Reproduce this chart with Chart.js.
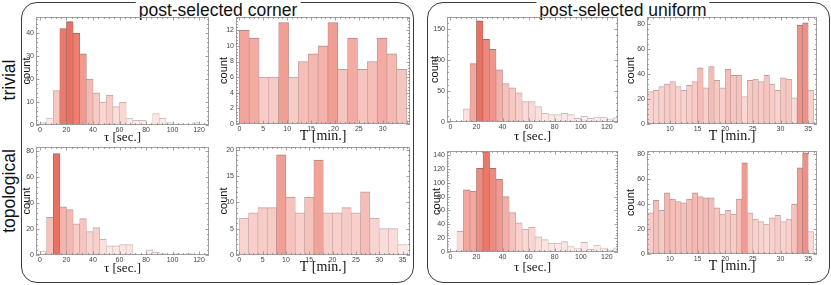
<!DOCTYPE html>
<html>
<head>
<meta charset="utf-8">
<script src="https://cdn.jsdelivr.net/npm/chart.js@4.4.1/dist/chart.umd.min.js"></script>
<style>
  body { margin: 0; background: #fff; width: 831px; height: 285px; overflow: hidden; position: relative; font-family: "Liberation Sans", Arial, sans-serif; }
  .box { position: absolute; border: 1.3px solid #3a3a3a; border-radius: 16px; box-sizing: border-box; }
  .title { position: absolute; top: 0; background: #fff; padding: 0 3px; font-size: 17.5px; line-height: 20px; color: #111; white-space: nowrap; transform: translateX(-50%); }
  .row { position: absolute; font-size: 17.5px; line-height: 20px; color: #111; white-space: nowrap; transform: translate(-50%, -50%) rotate(-90deg); }
  canvas { position: absolute; }
</style>
</head>
<body>
<div class="box" style="left:21px;top:2px;width:393px;height:281px"></div>
<div class="box" style="left:427px;top:2px;width:403px;height:281px"></div>
<div class="title" style="left:218px">post-selected corner</div>
<div class="title" style="left:623px">post-selected uniform</div>
<div class="row" style="left:9px;top:80px">trivial</div>
<div class="row" style="left:9px;top:191px">topological</div>

<script>
// tick labels
const tauTicks = [0, 20, 40, 60, 80, 100, 120];
const cornerTTicks = [0, 5, 10, 15, 20, 25, 30];
const cornerTTicks2 = [0, 5, 10, 15, 20, 25, 30, 35];
const uniformTTicks = [10, 15, 20, 25, 30, 35];

// counts per bin (tau: 5 s bins from 0, T corner: 17 or 18 bins from 0, T uniform: 1 min bins from 6)
const trivialCornerTau = [1, 3, 15, 42, 45, 40, 31, 20, 14, 10, 13, 8, 10, 3, 2, 2, 0, 5, 3, 1, 0, 0, 0, 1, 0];
const trivialCornerT = [12, 11, 6, 6, 13, 6, 8, 9, 10, 13, 7, 11, 7, 8, 11, 9, 7];
const topoCornerTau = [3, 29, 78, 37, 35, 24, 28, 18, 21, 12, 7, 7, 8, 8, 0, 0, 4, 2, 1, 0, 1, 0, 1, 0, 0];
const topoCornerT = [7, 8, 9, 9, 19, 11, 8, 11, 18, 8, 8, 9, 8, 12, 7, 5, 5, 2];
const trivialUniformTau = [1, 0, 21, 94, 163, 133, 117, 84, 62, 55, 47, 33, 33, 25, 14, 12, 12, 14, 12, 6, 9, 6, 8, 8, 5, 7];
const trivialUniformT = [26, 27, 30, 32, 34, 30, 27, 31, 34, 45, 29, 46, 35, 29, 44, 39, 39, 22, 35, 36, 34, 39, 32, 27, 37, 36, 21, 79, 81, 27];
const topoUniformTau = [0, 30, 90, 88, 121, 145, 121, 105, 80, 57, 42, 33, 36, 22, 18, 13, 13, 15, 8, 5, 14, 4, 10, 5, 2, 6];
const topoUniformT = [33, 43, 35, 49, 44, 42, 41, 44, 49, 46, 45, 45, 37, 32, 35, 32, 44, 73, 33, 28, 26, 24, 29, 31, 26, 28, 40, 69, 81, 18];

const tauLabel = "τ [sec.]";
const tLabel = "T [min.]";

const panels = [
  { counts: trivialCornerTau, start: 0, bin: 5, xMin: -3, xMax: 127.5, yMax: 47, xTicks: tauTicks, yTicks: [0, 10, 20, 30, 40], xTitle: tauLabel, tSize: 13, area: [36, 17, 209, 125], titleY: 137, W: 16, k: 1 },
  { counts: trivialCornerT, start: 0, bin: 35 / 17, xMin: -0.7, xMax: 35.7, yMax: 13.7, xTicks: cornerTTicks, yTicks: [0, 2, 4, 6, 8, 10, 12], xTitle: tLabel, tSize: 14, area: [236, 17, 410, 124], titleY: 137, W: 19, k: 0.65 },
  { counts: topoCornerTau, start: 0, bin: 5, xMin: -3, xMax: 127.5, yMax: 83, xTicks: tauTicks, yTicks: [0, 20, 40, 60, 80], xTitle: tauLabel, tSize: 13, area: [36, 147, 209, 255], titleY: 268, W: 16, k: 1 },
  { counts: topoCornerT, start: 0, bin: 2, xMin: -0.7, xMax: 36.6, yMax: 20.5, xTicks: cornerTTicks2, yTicks: [0, 5, 10, 15, 20], xTitle: tLabel, tSize: 14, area: [236, 147, 410, 255], titleY: 268, W: 19, k: 0.65 },
  { counts: trivialUniformTau, start: 0, bin: 5, xMin: -2.6, xMax: 128.5, yMax: 169, xTicks: tauTicks, yTicks: [0, 50, 100, 150], xTitle: tauLabel, tSize: 13, area: [447, 17, 618, 122], titleY: 136, W: 19, k: 1 },
  { counts: trivialUniformT, start: 6, bin: 1, xMin: 5.85, xMax: 36.6, yMax: 85.6, xTicks: uniformTTicks, yTicks: [0, 20, 40, 60, 80], xTitle: tLabel, tSize: 14, area: [647, 17, 817, 124], titleY: 137, W: 23, k: 0.75 },
  { counts: topoUniformTau, start: 0, bin: 5, xMin: -2.6, xMax: 128.5, yMax: 146, xTicks: tauTicks, yTicks: [0, 20, 40, 60, 80, 100, 120, 140], xTitle: tauLabel, tSize: 13, area: [447, 151, 618, 252], titleY: 267, W: 17, k: 0.95 },
  { counts: topoUniformT, start: 6, bin: 1, xMin: 5.85, xMax: 36.6, yMax: 82.4, xTicks: uniformTTicks, yTicks: [0, 20, 40, 60, 80], xTitle: tLabel, tSize: 14, area: [647, 151, 817, 254], titleY: 267, W: 23, k: 0.75 }
];

function fill(t) {
  t = Math.max(0, Math.min(1, t));
  return `rgb(${Math.round(253 - 19 * t)},${Math.round(243 - 131 * t)},${Math.round(242 - 144 * t)})`;
}
function edge(t) {
  t = Math.max(0, Math.min(1, t));
  return `rgb(${Math.round(208 - 60 * t)},${Math.round(192 - 100 * t)},${Math.round(192 - 105 * t)})`;
}

// Mathematica-like frame with inward ticks on all four sides
const frameTicks = {
  id: "frameTicks",
  afterDatasetsDraw(chart) {
    const { ctx, chartArea: a, scales: { x, y } } = chart;
    ctx.save();
    ctx.strokeStyle = "#a0a0a0";
    ctx.lineWidth = 1;
    ctx.strokeRect(Math.round(a.left) + 0.5, Math.round(a.top) + 0.5, Math.round(a.right - a.left) - 1, Math.round(a.bottom - a.top) - 1);
    ctx.strokeStyle = "#8a8a8a";
    ctx.lineWidth = 0.8;
    ctx.beginPath();
    const marks = (scale) => {
      const vals = scale.ticks.map(t => t.value);
      const step = vals[1] - vals[0];
      const minor = step / 5;
      const out = [];
      for (let v = vals[0] - step; v <= scale.max + 1e-9; v += minor) {
        if (v < scale.min - 1e-9) continue;
        const major = Math.abs(Math.round((v - vals[0]) / step) * step - (v - vals[0])) < 1e-6;
        out.push([scale.getPixelForValue(v), major ? 3.5 : 2]);
      }
      return out;
    };
    for (const [px, len] of marks(x)) {
      const p = Math.round(px) + 0.5;
      ctx.moveTo(p, a.bottom); ctx.lineTo(p, a.bottom - len);
      ctx.moveTo(p, a.top); ctx.lineTo(p, a.top + len);
    }
    for (const [py, len] of marks(y)) {
      const p = Math.round(py) + 0.5;
      ctx.moveTo(a.left, p); ctx.lineTo(a.left + len, p);
      ctx.moveTo(a.right, p); ctx.lineTo(a.right - len, p);
    }
    ctx.stroke();
    ctx.restore();
  }
};

const tickFont = { family: "Liberation Sans", size: 7 };
const padTop = 6, padRight = 6;

panels.forEach((p) => {
  const [L, T, R, B] = p.area;
  const lh = p.tSize * 1.2;
  const H = Math.round(p.titleY - B + lh / 2);
  const canvas = document.createElement("canvas");
  const w = (R - L) + p.W + padRight;
  const h = (B - T) + padTop + H;
  canvas.width = w;
  canvas.height = h;
  canvas.style.left = (L - p.W) + "px";
  canvas.style.top = (T - padTop) + "px";
  canvas.style.width = w + "px";
  canvas.style.height = h + "px";
  document.body.appendChild(canvas);

  const points = p.counts.map((v, i) => ({ x: p.start + (i + 0.5) * p.bin, y: v }));
  const max = Math.max(...p.counts);

  new Chart(canvas.getContext("2d"), {
    type: "bar",
    data: {
      datasets: [{
        data: points,
        backgroundColor: c => fill(c.parsed.y / max * p.k),
        borderColor: c => edge(c.parsed.y / max * p.k),
        borderWidth: c => c.parsed.y > 0 ? { left: 0.6, right: 0.6, top: 1, bottom: 0 } : 0,
        borderSkipped: false,
        barPercentage: 1,
        categoryPercentage: 1,
        clip: 0
      }]
    },
    options: {
      responsive: false,
      animation: false,
      devicePixelRatio: 1,
      layout: { padding: { top: padTop, right: padRight, left: 0, bottom: 0 } },
      plugins: { legend: { display: false }, tooltip: { enabled: false } },
      scales: {
        x: {
          type: "linear",
          min: p.xMin,
          max: p.xMax,
          offset: false,
          bounds: "data",
          grid: { display: false, drawTicks: false },
          border: { display: false },
          afterBuildTicks: s => { s.ticks = p.xTicks.map(v => ({ value: v })); },
          afterFit: s => { s.height = H; s.paddingLeft = 0; s.paddingRight = 0; },
          ticks: { autoSkip: false, maxRotation: 0, padding: 1, font: tickFont, color: "#444", callback: v => v },
          title: { display: true, text: p.xTitle, padding: 0, color: "#111", font: { family: "Liberation Serif", size: p.tSize } }
        },
        y: {
          min: 0,
          max: p.yMax,
          bounds: "data",
          grid: { display: false, drawTicks: false },
          border: { display: false },
          afterBuildTicks: s => { s.ticks = p.yTicks.map(v => ({ value: v })); },
          afterFit: s => { s.width = p.W; s.paddingTop = 0; s.paddingBottom = 0; },
          ticks: { autoSkip: false, padding: 2, font: tickFont, color: "#444", callback: v => v },
          title: { display: true, text: "count", padding: 0, color: "#111", font: { family: "Liberation Sans", size: 11 } }
        }
      }
    },
    plugins: [frameTicks]
  });
});
</script>
</body>
</html>
